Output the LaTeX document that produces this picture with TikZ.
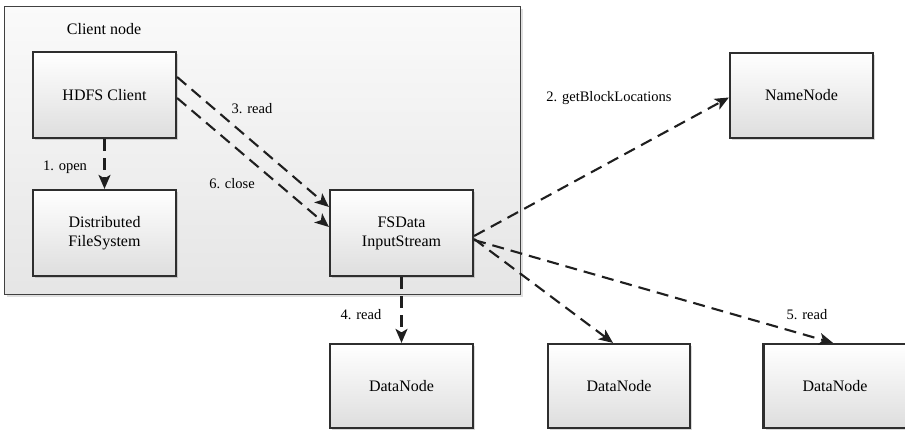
\documentclass[tikz,border=0pt]{standalone}
\usepackage{fontspec}
\setmainfont{Liberation Serif}
\usetikzlibrary{arrows.meta,calc,shadows}
\begin{document}
\begin{tikzpicture}[x=1pt,y=-1pt,
  boxnode/.style={draw=black!82,line width=2.2pt,top color=white,bottom color=black!13,
    minimum width=143pt,minimum height=86pt,align=center,inner sep=2pt,
    font=\fontsize{16}{19}\selectfont,
    drop shadow={shadow xshift=2pt,shadow yshift=-2pt,opacity=0.25,fill=black!60}},
  lbl/.style={font=\fontsize{14.5}{17}\selectfont,inner sep=0pt},
  flow/.style={draw=black!88,line width=2.1pt,dash pattern=on 12pt off 7pt,
    -{Stealth[length=14pt,width=12pt,inset=3.5pt]}}]
\useasboundingbox (0,0) rectangle (905,430);
% client frame
\node[draw=black!75,line width=1.4pt,top color=black!2,bottom color=black!10,
  minimum width=516pt,minimum height=288pt,inner sep=0pt,anchor=north west,
  drop shadow={shadow xshift=2pt,shadow yshift=-2pt,opacity=0.2,fill=black!60}] (frame) at (4,6) {};
\node[lbl,font=\fontsize{16}{19}\selectfont] (cn) at (104,29) {Client node};
% boxes
\node[boxnode] (hdfs) at (104.5,95) {HDFS Client};
\node[boxnode] (dfs) at (104.5,233) {Distributed\\FileSystem};
\node[boxnode] (fsd) at (401.5,233) {FSData\\InputStream};
\node[boxnode,minimum height=85pt] (nn) at (801.5,95.5) {NameNode};
\node[boxnode,minimum height=84pt] (dn1) at (401.5,386) {DataNode};
\node[boxnode,minimum height=84pt,minimum width=142pt] (dn2) at (619,386) {DataNode};
\node[boxnode,minimum height=84pt] (dn3) at (835,386) {DataNode};
% connectors
\draw[flow] (hdfs.south) -- (dfs.north);
\draw[flow] ($(hdfs.east)+(0,-18)$) -- ($(fsd.west)+(0,-26)$);
\draw[flow] ($(hdfs.east)+(0,3)$) -- ($(fsd.west)+(0,-6)$);
\draw[flow] ($(fsd.east)+(0,3)$) -- ($(nn.west)+(0,2)$);
\draw[flow] (fsd.south) -- (dn1.north);
\draw[flow] ($(fsd.east)+(0,6)$) -- ($(dn2.north)+(-6,0)$);
\draw[flow] ($(fsd.east)+(0,7)$) -- ($(dn3.north)+(-2,0)$);
% labels
\node[lbl] (l1) at (65,167) {1. open};
\node[lbl] (l3) at (252,109) {3. read};
\node[lbl] (l6) at (232,184) {6. close};
\node[lbl] (l2) at (609,98) {2. getBlockLocations};
\node[lbl] (l4) at (361,315) {4. read};
\node[lbl] (l5) at (807,315) {5. read};
\end{tikzpicture}
\end{document}
